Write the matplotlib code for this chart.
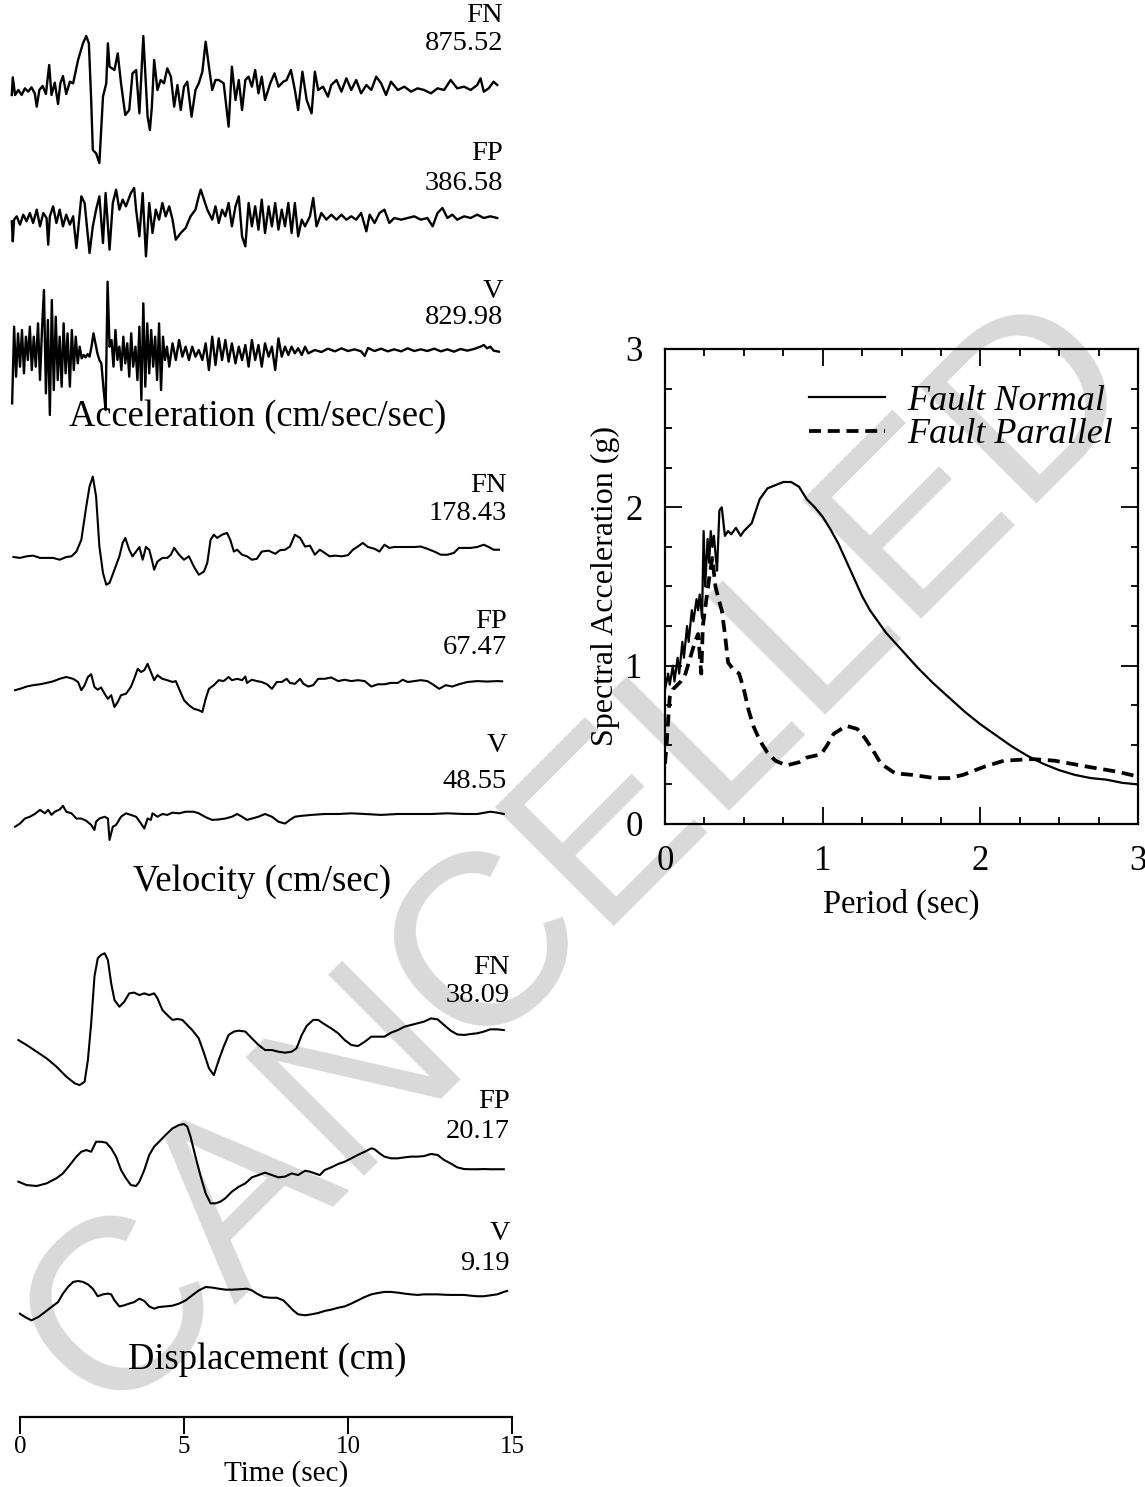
import numpy as np
import matplotlib
matplotlib.use("Agg")
import matplotlib.pyplot as plt
from matplotlib.ticker import MultipleLocator

# ---------------- data: time histories (time in s) ----------------
acc_fn_t = [-0.25,-0.22,-0.15,-0.05,0.05,0.15,0.25,0.35,0.45,0.51,
            0.59,0.69,0.79,0.89,0.96,1.06,1.16,1.23,1.31,1.41,
            1.52,1.62,1.77,1.92,2.02,2.10,2.17,2.22,2.32,2.42,
            2.53,2.63,2.68,2.73,2.88,2.98,3.08,3.21,3.33,3.43,
            3.54,3.64,3.76,3.89,3.96,4.02,4.09,4.19,4.29,4.39,
            4.49,4.60,4.70,4.80,4.90,5.00,5.10,5.23,5.35,5.45,
            5.56,5.66,5.76,5.86,5.96,6.06,6.21,6.36,6.46,6.57,
            6.67,6.77,6.87,6.97,7.07,7.17,7.27,7.37,7.47,7.63,
            7.76,7.88,8.03,8.13,8.26,8.38,8.48,8.61,8.74,8.89,
            8.99,9.09,9.24,9.39,9.49,9.65,9.80,9.95,10.10,10.25,
            10.40,10.56,10.71,10.86,11.01,11.16,11.31,11.52,11.72,11.92,
            12.12,12.32,12.53,12.73,12.93,13.13,13.33,13.54,13.74,13.94,
            14.04,14.14,14.29,14.44,14.55]
acc_fn = [-60,152,-60,0,-60,20,-20,32,-40,-200,
          0,48,-48,300,-60,88,-168,80,168,-48,
          100,80,360,560,648,560,-120,-720,-760,-876,
          -80,80,560,280,240,440,80,-300,-240,200,
          240,-280,648,-320,-480,-200,360,0,120,80,
          260,160,-200,60,-240,40,100,-320,0,80,
          220,580,280,0,120,120,80,-440,280,-120,
          120,-240,120,160,40,240,-40,160,-120,80,
          200,40,100,120,240,0,-240,220,-120,-280,
          220,0,40,-80,60,120,-20,140,0,120,
          -40,60,0,160,80,-60,100,0,40,-20,
          20,0,-40,20,0,120,20,40,0,60,
          140,-20,20,100,60]

acc_fp_t = [-0.25,-0.22,-0.18,-0.10,0.00,0.10,0.20,0.30,0.40,0.51,
            0.61,0.71,0.81,0.86,0.91,1.01,1.11,1.21,1.31,1.41,
            1.52,1.62,1.72,1.87,1.97,2.12,2.22,2.32,2.42,2.53,
            2.61,2.73,2.83,2.93,3.03,3.13,3.23,3.38,3.48,3.54,
            3.64,3.74,3.84,3.94,4.04,4.14,4.24,4.34,4.44,4.55,
            4.65,4.75,4.90,5.05,5.20,5.35,5.45,5.51,5.61,5.71,
            5.86,5.96,6.06,6.16,6.26,6.36,6.46,6.57,6.67,6.77,
            6.87,6.97,7.07,7.17,7.27,7.37,7.47,7.58,7.68,7.78,
            7.88,7.98,8.08,8.18,8.28,8.38,8.48,8.59,8.69,8.84,
            8.94,9.04,9.19,9.34,9.49,9.65,9.80,9.95,10.10,10.25,
            10.40,10.56,10.66,10.81,10.96,11.11,11.26,11.41,11.62,11.82,
            12.02,12.22,12.42,12.58,12.73,12.88,13.03,13.18,13.33,13.54,
            13.74,13.94,14.14,14.34,14.55]
acc_fp = [-28,-268,-8,32,-68,52,-28,72,-48,112,
          -88,72,12,-308,32,152,-48,112,-88,52,
          -68,32,-348,272,192,-408,-88,112,272,-288,
          312,-368,192,352,112,232,152,312,372,112,
          -208,312,-448,192,-168,112,-8,192,32,152,
          -8,-248,-168,-108,32,112,272,352,232,112,
          -8,152,-48,112,32,192,-88,152,272,-208,
          -328,192,-88,152,-128,232,-168,152,-88,192,
          -128,112,-88,192,-168,192,-208,-8,-88,32,
          252,-88,72,-8,52,-8,52,-8,32,-8,
          72,-148,52,-48,72,112,-48,12,-8,12,
          32,-8,12,-88,72,132,12,52,-8,32,
          12,52,12,32,12]

acc_v_t = [-0.24,-0.18,-0.12,-0.06,0.00,0.06,0.12,0.18,0.24,0.30,
           0.36,0.42,0.48,0.55,0.61,0.67,0.73,0.79,0.85,0.91,
           0.97,1.03,1.09,1.15,1.21,1.27,1.33,1.39,1.45,1.52,
           1.58,1.64,1.70,1.76,1.82,1.88,1.94,2.00,2.06,2.12,
           2.18,2.24,2.30,2.36,2.42,2.48,2.55,2.61,2.67,2.73,
           2.79,2.85,2.91,2.97,3.03,3.09,3.15,3.21,3.27,3.33,
           3.39,3.45,3.52,3.58,3.64,3.70,3.76,3.82,3.88,3.94,
           4.00,4.06,4.12,4.18,4.24,4.30,4.36,4.42,4.48,
           4.55,4.65,4.75,4.85,4.95,5.05,5.15,5.25,5.35,5.45,
           5.56,5.66,5.76,5.86,5.96,6.06,6.16,6.26,6.36,6.46,
           6.57,6.67,6.77,6.87,6.97,7.07,7.17,7.27,7.37,7.47,
           7.58,7.68,7.78,7.88,7.98,8.08,8.18,8.28,8.38,8.48,
           8.59,8.69,8.79,
           8.99,9.19,9.39,9.60,9.80,10.00,10.20,10.40,10.51,10.61,
           10.81,11.01,11.21,11.41,11.62,11.82,12.02,12.22,12.42,12.63,
           12.83,13.03,13.23,13.43,13.64,13.84,14.04,14.14,14.24,14.34,
           14.44,14.60]
acc_v = [-640,280,-320,200,-200,240,-280,160,-120,280,
         -240,160,-200,320,-360,240,720,-520,360,-780,
         600,-480,400,-360,160,-440,320,-280,200,-440,
         240,-240,160,-160,40,-100,-60,-88,-48,-80,
         40,200,80,-40,-120,-160,-480,-720,820,40,
         120,-200,240,-120,40,-240,160,-160,80,-320,
         200,-200,40,-360,280,-600,560,-440,320,-280,
         240,-200,160,-360,320,-480,160,-120,40,
         -200,80,-120,120,-80,40,-120,40,-80,0,
         -120,80,-240,160,-180,140,-120,120,-140,80,
         -160,40,-120,60,-200,120,-120,60,-200,80,
         -80,40,-240,140,-80,40,-60,40,-40,20,
         -60,40,-40,
         0,-24,16,-16,20,-12,8,-16,-72,24,
         -12,16,-16,8,-16,20,-12,8,-12,16,
         -16,8,-20,12,-8,12,40,60,20,40,
         -8,-20]

vel_fn_t = [-0.20,0.00,0.20,0.40,0.61,0.81,1.01,1.21,1.41,1.57,
            1.72,1.87,2.02,2.12,2.22,2.32,2.42,2.53,2.63,2.73,
            2.88,3.03,3.13,3.21,3.33,3.43,3.54,3.64,3.74,3.84,
            3.94,4.02,4.09,4.19,4.34,4.49,4.60,4.70,4.85,5.00,
            5.15,5.30,5.45,5.61,5.71,5.81,5.91,6.01,6.16,6.31,
            6.41,6.52,6.62,6.77,6.92,7.07,7.22,7.37,7.58,7.78,
            7.93,8.08,8.23,8.38,8.54,8.69,8.84,8.99,9.14,9.29,
            9.44,9.60,9.80,10.00,10.15,10.30,10.45,10.61,10.81,10.96,
            11.11,11.26,11.41,11.62,11.82,12.02,12.22,12.42,12.63,12.83,
            13.03,13.23,13.38,13.54,13.74,13.94,14.14,14.29,14.44,14.60]
vel_fn = [0,-2,1.5,3,-2,-2,-2,-6,0,1.5,
          12,38,111,155,177,133,23,-35,-61,-57,
          -28,1.5,31,42,16,1.5,12,22,-6,22,
          16,-6,-28,-10,-2,-2,5,20,5,-6,
          1.5,-21,-39,-32,-13,38,49,42,49,53,
          38,12,16,5,1.5,-6,-4,12,14,7,
          15,16,23,49,42,23,25,5,16,9,
          1.5,3,1.5,4,16,23,31,22,18,12,
          27,20,22,22,22,22,23,18,12,5,
          5,9,20,20,20,22,27,22,16,16]

vel_fp_t = [-0.15,0.00,0.20,0.40,0.61,0.81,1.01,1.21,1.41,1.62,
            1.77,1.87,1.97,2.07,2.17,2.27,2.37,2.47,2.58,2.68,
            2.78,2.88,2.98,3.08,3.23,3.38,3.48,3.59,3.69,3.79,
            3.89,3.99,4.09,4.19,4.34,4.49,4.65,4.75,4.85,5.00,
            5.15,5.30,5.45,5.56,5.66,5.76,5.91,6.06,6.21,6.36,
            6.46,6.62,6.77,6.87,6.92,7.07,7.22,7.37,7.53,7.68,
            7.83,7.98,8.13,8.23,8.38,8.54,8.64,8.79,8.94,9.09,
            9.29,9.49,9.70,9.90,10.10,10.30,10.51,10.71,10.91,11.11,
            11.31,11.52,11.67,11.82,12.02,12.22,12.42,12.58,12.78,12.98,
            13.18,13.38,13.64,13.94,14.24,14.55,14.70]
vel_fp = [-18,-15,-10,-7,-5,-2,1.5,7,11,7,
          0,-18,-7,11,17,-11,-17,-12,-26,-37,
          -29,-55,-44,-29,-26,-11,7,29,22,26,
          40,22,4,15,7,4,0,2,-15,-40,
          -51,-59,-62,-66,-37,-15,-7,4,2,11,
          4,7,4,12,-2,5,2,0,-5,-15,
          0,0,7,-2,-4,7,-4,-10,-7,7,
          7,10,2,5,2,4,2,-10,-5,-5,
          -2,-2,5,0,2,4,2,-5,-15,-7,
          -10,-5,0,2,1,2,1.5]

vel_v_t = [-0.15,0.00,0.15,0.30,0.45,0.61,0.76,0.86,0.96,1.06,
           1.21,1.31,1.41,1.57,1.72,1.87,2.02,2.17,2.27,2.32,
           2.42,2.58,2.68,2.73,2.83,2.93,3.08,3.23,3.38,3.54,
           3.69,3.79,3.89,3.99,4.04,4.19,4.34,4.49,4.65,4.85,
           5.05,5.30,5.45,5.66,5.86,6.06,6.26,6.46,6.62,6.77,
           6.92,7.07,7.27,7.47,7.68,7.88,8.08,8.23,8.38,8.59,
           8.89,9.29,9.70,10.10,10.51,11.01,11.52,12.02,12.53,13.03,
           13.54,13.94,14.34,14.55,14.75]
vel_v = [-28,-21,-10,-6,0,9,1.5,9,-2,5,
         10,18,5,1.5,-10,-10,-15,-24,-35,-17,
         -10,-6,-10,-57,-28,-24,-6,1.5,-2,-6,
         -21,-32,-10,-13,1.5,-6,0,-2,3,1.5,
         5,5,1.5,-7,-13,-12,-10,-6,0,-6,
         -13,-10,-6,0,-6,-17,-21,-13,-6,-4,
         -2,0,0,1.5,0,-2,0,0,0,1.5,
         0,0,5,3,0]

disp_fn_t = [-0.05,0.20,0.51,0.81,1.11,1.41,1.67,1.82,1.97,2.07,
             2.17,2.27,2.37,2.47,2.58,2.68,2.78,2.88,3.03,3.18,
             3.33,3.48,3.64,3.79,3.94,4.09,4.19,4.34,4.49,4.65,
             4.80,4.95,5.10,5.25,5.45,5.61,5.76,5.91,6.06,6.21,
             6.36,6.52,6.67,6.87,7.07,7.27,7.47,7.68,7.88,8.08,
             8.28,8.43,8.59,8.74,8.94,9.09,9.24,9.49,9.70,9.90,
             10.10,10.30,10.51,10.71,10.91,11.11,11.31,11.52,11.72,11.92,
             12.12,12.32,12.53,12.73,12.93,13.13,13.33,13.54,13.74,13.94,
             14.14,14.34,14.55,14.75]
disp_fn = [-8.0,-10.6,-14.2,-17.7,-22.1,-27.4,-31.0,-31.9,-30.1,-18.6,
           0.9,25.7,35.4,37.2,38.1,34.5,22.1,13.3,9.7,12.4,
           16.8,17.2,15.9,16.8,15.9,16.8,14.2,8.0,5.3,2.7,
           3.2,2.7,0.0,-2.7,-7.1,-15.0,-23.0,-26.6,-18.6,-11.5,
           -5.3,-3.5,-3.0,-3.5,-7.1,-10.6,-13.3,-13.3,-14.2,-14.7,
           -14.2,-12.4,-5.3,-0.5,2.7,2.7,0.9,-1.8,-4.4,-8.0,
           -10.6,-11.2,-8.9,-6.2,-6.2,-6.2,-4.1,-2.7,-0.9,0.0,
           0.9,1.8,3.5,3.0,0.0,-3.0,-5.0,-5.3,-4.8,-4.4,
           -3.5,-2.3,-2.3,-2.7]

disp_fp_t = [-0.05,0.20,0.51,0.81,1.11,1.31,1.52,1.72,1.87,2.02,
             2.17,2.32,2.47,2.63,2.78,2.93,3.08,3.23,3.38,3.54,
             3.64,3.79,3.94,4.09,4.24,4.44,4.65,4.85,5.00,5.10,
             5.20,5.35,5.51,5.66,5.81,5.96,6.11,6.26,6.46,6.67,
             6.87,7.07,7.27,7.47,7.68,7.88,8.08,8.28,8.48,8.69,
             8.84,8.99,9.14,9.29,9.49,9.70,9.90,10.10,10.30,10.51,
             10.71,10.81,10.96,11.11,11.31,11.52,11.72,11.92,12.12,12.32,
             12.53,12.73,12.93,13.13,13.33,13.54,13.74,13.94,14.14,14.34,
             14.55,14.75]
disp_fp = [-6.2,-8.0,-8.5,-7.1,-4.4,-1.8,2.7,7.1,9.7,10.6,
           9.7,15.0,15.0,14.5,11.5,7.1,0.0,-4.4,-8.0,-8.5,
           -6.2,0.0,8.0,12.4,15.0,18.6,22.1,23.9,24.4,23.0,
           17.7,7.1,-3.5,-12.4,-17.7,-17.7,-16.8,-15.0,-11.5,-8.9,
           -7.1,-3.9,-2.7,-1.4,-2.7,-3.9,-3.5,-1.8,-2.7,-0.4,
           -0.9,-1.8,-2.7,0.0,1.4,3.2,4.4,6.2,8.0,9.7,
           11.5,11.0,8.9,7.1,6.2,6.2,6.7,7.1,7.1,7.4,
           8.5,8.0,5.3,3.5,1.4,0.5,0.4,0.4,0.5,0.4,
           0.4,0.4]

disp_v_t = [0.00,0.15,0.35,0.56,0.76,0.96,1.16,1.31,1.46,1.62,
            1.77,1.92,2.07,2.22,2.37,2.53,2.68,2.78,2.88,3.03,
            3.18,3.33,3.48,3.64,3.79,3.94,4.09,4.24,4.44,4.65,
            4.85,5.05,5.25,5.45,5.66,5.86,6.06,6.26,6.46,6.67,
            6.92,7.07,7.22,7.42,7.63,7.83,8.03,8.18,8.33,8.48,
            8.69,8.89,9.09,9.29,9.49,9.70,9.90,10.10,10.30,10.51,
            10.71,10.91,11.11,11.31,11.52,11.72,11.92,12.12,12.32,12.53,
            12.73,12.93,13.13,13.33,13.54,13.74,13.94,14.14,14.34,14.55,
            14.75,14.85]
disp_v = [-8.9,-10.6,-12.4,-10.6,-8.0,-5.3,-2.7,1.8,5.3,8.0,
          8.5,8.0,6.7,4.4,0.4,1.4,1.8,1.4,-1.8,-5.0,
          -4.4,-3.5,-2.7,-0.9,-2.1,-5.0,-6.2,-5.3,-5.0,-4.6,
          -3.5,-1.8,0.9,3.5,5.3,5.0,4.4,3.9,3.9,4.1,
          4.4,3.5,1.8,0.0,-0.4,-0.4,-1.8,-4.4,-7.1,-9.2,
          -9.7,-9.2,-8.5,-7.4,-6.7,-5.7,-5.0,-3.5,-1.8,0.0,
          1.4,2.1,2.7,2.7,2.3,1.8,1.4,1.1,1.4,1.4,
          1.4,1.2,1.1,1.1,1.1,0.7,0.4,0.4,0.9,1.4,
          2.7,3.2]

components = ["FN", "FP", "V"]
acc_peaks = ["875.52", "386.58", "829.98"]
vel_peaks = ["178.43", "67.47", "48.55"]
disp_peaks = ["38.09", "20.17", "9.19"]
time_ticks = [0, 5, 10, 15]

# ---------------- data: response spectra ----------------
T_fn = [0.0,0.02,0.03,0.05,0.06,0.08,0.09,0.11,0.12,0.14,0.15,0.17,0.18,0.20,0.21,
        0.22,0.235,0.245,0.255,0.27,0.28,0.29,0.30,0.31,0.33,0.345,0.36,0.38,0.40,
        0.42,0.45,0.48,0.50,0.55,0.60,0.65,0.70,0.75,0.80,0.85,0.90,0.95,1.00,1.05,
        1.10,1.15,1.20,1.25,1.30,1.35,1.40,1.50,1.60,1.70,1.80,1.90,2.00,2.10,2.20,
        2.30,2.40,2.50,2.60,2.70,2.80,2.90,3.00]
sa_fn = [0.85,0.95,0.88,1.00,0.90,1.05,0.95,1.15,1.05,1.25,1.15,1.35,1.28,1.42,1.35,
         1.45,1.30,1.85,1.50,1.80,1.65,1.85,1.75,1.82,1.60,1.98,2.00,1.82,1.85,
         1.83,1.87,1.82,1.85,1.90,2.05,2.12,2.14,2.16,2.16,2.13,2.05,2.00,1.94,1.86,
         1.77,1.66,1.55,1.44,1.35,1.28,1.21,1.10,0.99,0.89,0.80,0.71,0.63,0.56,0.49,
         0.43,0.38,0.34,0.31,0.29,0.28,0.26,0.25]
T_fp = [0.0,0.01,0.02,0.03,0.05,0.08,0.10,0.13,0.16,0.19,0.21,0.23,0.24,0.26,0.28,
        0.30,0.32,0.34,0.36,0.38,0.40,0.43,0.47,0.50,0.53,0.56,0.60,0.65,0.70,0.77,
        0.85,0.90,0.99,1.03,1.07,1.15,1.22,1.27,1.31,1.37,1.46,1.57,1.71,1.80,1.89,
        2.02,2.15,2.33,2.47,2.69,2.87,3.00]
sa_fp = [0.38,0.50,0.65,0.80,0.85,0.88,0.90,0.95,1.05,1.15,1.20,0.95,1.25,1.40,1.55,
         1.68,1.50,1.42,1.35,1.20,1.02,0.98,0.95,0.85,0.72,0.62,0.53,0.45,0.40,0.37,
         0.39,0.42,0.44,0.50,0.57,0.62,0.60,0.54,0.48,0.38,0.32,0.31,0.29,0.29,0.31,
         0.36,0.40,0.41,0.40,0.36,0.33,0.30]

# ---------------- figure ----------------
W, H = 1145, 1487
fig = plt.figure(figsize=(W / 100, H / 100), dpi=100)
fig.patch.set_facecolor("white")
SERIF = ["Liberation Serif", "DejaVu Serif"]
plt.rcParams["font.family"] = SERIF


def rect(x0, y0, x1, y1):
    return [x0 / W, 1 - y1 / H, (x1 - x0) / W, (y1 - y0) / H]


# watermark (behind everything)
fig.text(582 / W, 1 - 858 / H, "CANCELLED", rotation=45, rotation_mode="anchor",
         ha="center", va="center", fontsize=176, color="#d9d9d9",
         family=["Liberation Sans", "DejaVu Sans"], zorder=-10)

# time mapping of the left column
X0, X1 = 0, 572
T_LEFT, T_RIGHT = -20 / 32.8, (572 - 20) / 32.8


def trace(t, v, base, k, hh=90, lw=1.5):
    ax = fig.add_axes(rect(X0, base - hh, X1, base + hh))
    ax.set_xlim(T_LEFT, T_RIGHT)
    ax.set_ylim(-hh * k, hh * k)
    ax.axis("off")
    ax.patch.set_alpha(0)
    ax.plot(t, v, color="black", lw=lw, solid_joinstyle="round")
    return ax


def label(xr, yc, s, size=20.5):
    fig.text(xr / W, 1 - yc / H, s, ha="right", va="center", fontsize=size)


# acceleration
ACC_K = 12.0
trace(acc_fn_t, acc_fn, 90, ACC_K, lw=1.7)
trace(acc_fp_t, acc_fp, 219, ACC_K, lw=1.7)
trace(acc_v_t, acc_v, 350, ACC_K, lw=1.7)
# velocity
VEL_K = 2.2
trace(vel_fn_t, vel_fn, 557, VEL_K)
trace(vel_fp_t, vel_fp, 682, VEL_K)
trace(vel_v_t, vel_v, 814, VEL_K)
# displacement
DISP_K = 0.531
trace(disp_fn_t, disp_fn, 1025, DISP_K)
trace(disp_fp_t, disp_fp, 1170, DISP_K)
trace(disp_v_t, disp_v, 1297, DISP_K)

label_rows = [
    (503, [(15, 44), (153, 184), (291, 318)], acc_peaks),
    (507, [(486, 514), (621, 648), (746, 782)], vel_peaks),
    (510, [(968, 996), (1101, 1131), (1233, 1263)], disp_peaks),
]
for xr, ys, peaks in label_rows:
    for comp, (y1, y2), pk in zip(components, ys, peaks):
        label(xr, y1, comp)
        label(xr, y2, pk)

fig.text(258 / W, 1 - 417 / H, "Acceleration (cm/sec/sec)", ha="center", va="center", fontsize=26.3)
fig.text(262 / W, 1 - 882 / H, "Velocity (cm/sec)", ha="center", va="center", fontsize=26.5)
fig.text(267 / W, 1 - 1360 / H, "Displacement (cm)", ha="center", va="center", fontsize=26.3)

# time axis
axt = fig.add_axes(rect(X0, 1410, X1, 1417))
axt.set_xlim(T_LEFT, T_RIGHT)
axt.set_ylim(0, 1)
axt.patch.set_alpha(0)
for s in ["left", "right", "top"]:
    axt.spines[s].set_visible(False)
axt.spines["bottom"].set_bounds(time_ticks[0], time_ticks[-1])
axt.spines["bottom"].set_linewidth(1.6)
axt.set_xticks(time_ticks)
axt.set_xticklabels([str(v) for v in time_ticks])
axt.set_yticks([])
axt.tick_params(axis="x", direction="out", length=12, width=1.4, labelsize=18, pad=2)
axt.set_xlabel("Time (sec)", fontsize=21, labelpad=1)

# response spectra
axs = fig.add_axes(rect(665, 349, 1138, 824))
axs.patch.set_alpha(0)
axs.plot(T_fn, sa_fn, color="black", lw=1.6, label="Fault Normal")
axs.plot(T_fp, sa_fp, color="black", lw=2.7, linestyle=(0, (3.2, 1.8)), label="Fault Parallel")
axs.set_xlim(0, 3)
axs.set_ylim(0, 3)
axs.xaxis.set_major_locator(MultipleLocator(1))
axs.xaxis.set_minor_locator(MultipleLocator(0.25))
axs.yaxis.set_major_locator(MultipleLocator(1))
axs.yaxis.set_minor_locator(MultipleLocator(0.25))
axs.tick_params(which="both", direction="in", top=True, right=True, width=1.3, labelsize=25)
axs.tick_params(axis="y", which="major", length=12, pad=16)
axs.tick_params(axis="x", which="major", length=12, pad=15)
axs.tick_params(which="minor", length=5)
for sp in axs.spines.values():
    sp.set_linewidth(1.6)
axs.set_xlabel("Period (sec)", fontsize=23.5, labelpad=8)
axs.set_ylabel("Spectral Acceleration (g)", fontsize=23, labelpad=4)
axs.legend(loc="upper left", bbox_to_anchor=(0.305, 0.925), frameon=False,
           prop={"family": SERIF, "style": "italic", "size": 26},
           handlelength=2.1, handletextpad=0.62, labelspacing=0.0,
           borderpad=0, borderaxespad=0)

fig.savefig("out.png", dpi=100, facecolor="white")
